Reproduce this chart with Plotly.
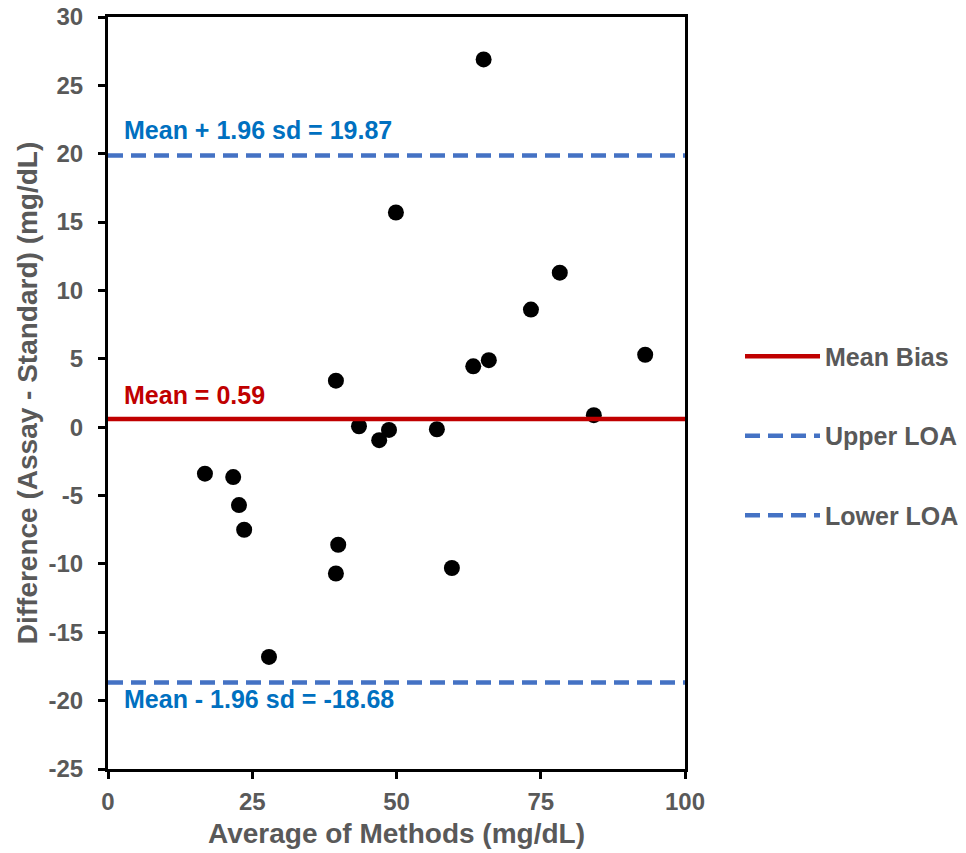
import plotly.graph_objects as go

# Data
avg_methods = [16.8, 21.7, 22.7, 23.6, 27.9, 39.5, 39.9, 39.5, 43.5, 47.0, 48.7,
               49.9, 57.0, 59.6, 63.3, 66.0, 65.1, 73.3, 78.3, 84.2, 93.1]
differences = [-3.4, -3.65, -5.7, -7.5, -16.8, 3.4, -8.6, -10.7, 0.07, -0.95, -0.2,
               15.7, -0.15, -10.3, 4.45, 4.9, 26.9, 8.6, 11.3, 0.88, 5.3]

mean_bias = 0.59
upper_loa = 19.87
lower_loa = -18.68
x_span = [0, 100]

x_ticks = [0, 25, 50, 75, 100]
y_ticks = [-25, -20, -15, -10, -5, 0, 5, 10, 15, 20, 25, 30]

GRAY = "#595959"
RED = "#C00000"
BLUE_LINE = "#4472C4"
BLUE_TEXT = "#0070C0"
FONT = "Liberation Sans, Arial, sans-serif"

fig = go.Figure()

fig.add_trace(go.Scatter(
    x=avg_methods, y=differences, mode="markers",
    marker=dict(color="black", size=16),
    showlegend=False, hoverinfo="x+y",
))

fig.add_trace(go.Scatter(
    x=x_span, y=[mean_bias, mean_bias], mode="lines",
    line=dict(color=RED, width=4.5), name="<b>Mean Bias</b>",
    legendgroup="a",
))
fig.add_trace(go.Scatter(
    x=x_span, y=[upper_loa, upper_loa], mode="lines",
    line=dict(color=BLUE_LINE, width=4.5, dash="15px,8px"), name="<b>Upper LOA</b>",
    legendgroup="b",
))
fig.add_trace(go.Scatter(
    x=x_span, y=[lower_loa, lower_loa], mode="lines",
    line=dict(color=BLUE_LINE, width=4.5, dash="15px,8px"), name="<b>Lower LOA</b>",
    legendgroup="c",
))

annots = [
    (upper_loa, "Mean + 1.96 sd = %.2f" % upper_loa, BLUE_TEXT, "bottom", 10),
    (mean_bias, "Mean = %.2f" % mean_bias, RED, "bottom", 8),
    (lower_loa, "Mean - 1.96 sd = %.2f" % lower_loa, BLUE_TEXT, "top", 0),
]
for yv, txt, col, ya, yshift in annots:
    fig.add_annotation(
        x=2.4, y=yv, xref="x", yref="y", text="<b>%s</b>" % txt,
        showarrow=False, xanchor="left", yanchor=ya, yshift=yshift,
        font=dict(family=FONT, size=25, color=col),
    )

axis_common = dict(
    showgrid=False, zeroline=False, showline=True, linecolor="black",
    linewidth=3, mirror=True, ticks="outside", ticklen=7, tickwidth=3,
    tickcolor="black", automargin=False, ticklabeloverflow="allow",
    tickfont=dict(family=FONT, size=24, color=GRAY),
)

fig.update_layout(
    width=958, height=845,
    margin=dict(l=100, r=281, t=9, b=84),
    paper_bgcolor="white", plot_bgcolor="white",
    font=dict(family=FONT, color=GRAY),
    xaxis=dict(
        range=[0, 100], tickvals=x_ticks, ticktext=["<b>%d</b>" % v for v in x_ticks],
        title=dict(text="<b>Average of Methods (mg/dL)</b>",
                   font=dict(family=FONT, size=28, color=GRAY), standoff=10),
        ticklabelstandoff=2,
        **axis_common,
    ),
    yaxis=dict(
        range=[-25, 30], tickvals=y_ticks, ticktext=["<b>%d</b>" % v for v in y_ticks],
        title=dict(text="<b>Difference (Assay - Standard) (mg/dL)</b>",
                   font=dict(family=FONT, size=28, color=GRAY), standoff=3),
        ticklabelstandoff=10,
        **axis_common,
    ),
    legend=dict(
        xref="container", yref="container",
        x=0.7641, y=0.4935, xanchor="left", yanchor="middle",
        font=dict(family=FONT, size=25, color=GRAY),
        tracegroupgap=44, traceorder="grouped", itemwidth=75,
        bgcolor="rgba(0,0,0,0)",
    ),
)

fig.write_html("out.html")
